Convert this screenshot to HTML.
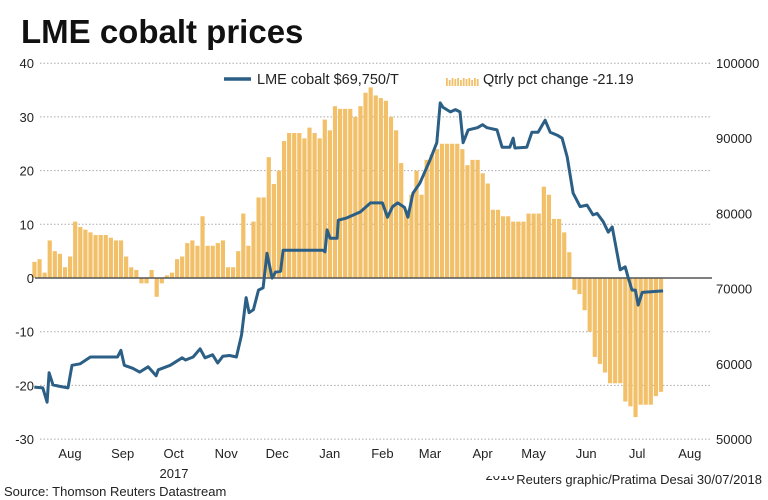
<!DOCTYPE html>
<html><head><meta charset="utf-8">
<style>
html,body{margin:0;padding:0;background:#fff;}
svg{display:block;font-family:"Liberation Sans",sans-serif;}
</style></head>
<body>
<svg id="chart" width="768" height="500" viewBox="0 0 768 500">
  <text x="21" y="43" font-size="33" font-weight="bold" fill="#111">LME cobalt prices</text>
  <g id="grid"></g>
  <g id="bars"></g>
  <g id="zero"></g>
  <g id="line"></g>
  <g id="axes"></g>
  <g>
    <line x1="224" y1="79" x2="251" y2="79" stroke="#2c5f85" stroke-width="3.5"/>
    <text x="257" y="84" font-size="14.5" fill="#222">LME cobalt $69,750/T</text>
    <g id="legswatch"></g>
    <text x="483" y="84" font-size="14.5" fill="#222">Qtrly pct change -21.19</text>
  </g>
  <text x="174" y="478" font-size="13" text-anchor="middle" fill="#222">2017</text>
  <text x="500" y="480" font-size="13" text-anchor="middle" fill="#222">2018</text>
  <rect x="480" y="470" width="288" height="6" fill="#fff"/>
  <text x="762" y="484" font-size="13" text-anchor="end" fill="#222">Reuters graphic/Pratima Desai 30/07/2018</text>
  <text x="4" y="496" font-size="13" fill="#222">Source: Thomson Reuters Datastream</text>
</svg>
<script>
const leftTicks = [40,30,20,10,0,-10,-20,-30];
const rightTicks = [100000,90000,80000,70000,60000,50000];
const monthLabels = ["Aug","Sep","Oct","Nov","Dec","Jan","Feb","Mar","Apr","May","Jun","Jul","Aug"];
const monthMidDays = [22,53,83,114,144,175,206,234,265,295,326,356,387];
const pctStartDay = 1;
const pctStepDays = 3;
const pctValues = [3,3.5,1,7,5,4.5,2,4,10.5,9.5,9,8.5,8,8,8,7.5,7,7,4,2,1.5,-1,-1,1.5,-3.5,-1,0.5,1,3.5,4,6.5,7,6,11.5,6,6,6.5,7,2,2,5,12,6,10.5,15,15,22.5,17.5,20,25.5,27,27,27,26,28,27,26,29.5,27.5,32,31.5,31.5,31.5,30,32,34.5,35.5,34,33.5,33,30,27.5,21.4,12.7,15.5,20,15.5,22,23,24,25,25,25,25,24,21,22,22,19.5,17.6,12.7,12.7,11.5,11.5,10.5,10.5,10.5,12,12,12,17,15.5,11,11,8.5,4.8,-2.2,-3,-6,-10,-14.7,-16,-17.6,-19.6,-19.6,-19.6,-23,-23.9,-25.9,-23.6,-23.6,-23.6,-22,-21.2];
const priceDays = [1,6,8.5,9.7,12,16,20.8,23.2,28,34,50,52,54,59,63,68,72.7,74,81,88,90,94.5,98.6,101.5,106,109,112,116,120,123,125.7,127.5,130,133,135.7,138,141,143,146,147.5,171,172.2,173.4,175.2,179.3,180,185,193,199,206,209,212,215,219,221,224,228,234,238,240,241.7,246,249,251.7,253.5,256.5,262,265,267.6,273.5,276.5,281,283,284,291,294,297.7,301.8,304.8,309,311.8,314.8,318.3,322.4,326.5,330,332.4,336,339,341.3,346,349,350.7,353,355,356.6,359,371.3];
const priceValues = [56900,56800,54900,58800,57200,57000,56800,59800,60000,60900,60900,61800,59800,59400,58900,59600,58400,59200,59800,60800,60500,60900,62000,60800,61200,60100,61000,61100,60900,63800,68800,66800,67200,69800,70100,74700,71400,72200,72300,75100,75100,74900,77800,76700,76700,79100,79400,80200,81400,81400,79500,80900,81400,80800,79500,82700,84000,87100,89400,94700,94100,93500,93800,93500,89400,91100,91400,91800,91400,91100,88800,88800,90000,88700,88800,90800,90800,92400,90800,90400,90000,87500,82700,80900,81100,79800,80000,78900,77500,78200,72500,72900,71500,69800,69800,67800,69500,69700];

const NS="http://www.w3.org/2000/svg";
function mk(tag, attrs, parent){const e=document.createElementNS(NS,tag);for(const k in attrs)e.setAttribute(k,attrs[k]);parent.appendChild(e);return e;}
const xDay = d => 70 + (d-22)*1.698;
const yL = v => 278 - v*5.37;
const yR = p => 439 - (p-50000)*0.00752;

const grid=document.getElementById('grid'), axes=document.getElementById('axes');
leftTicks.forEach(v=>{
  const l=mk('line',{x1:40,x2:712,y1:yL(v),y2:yL(v),stroke:'#aaa','stroke-width':1,'stroke-dasharray':'1.5,2'},grid);
  
  
  const t=mk('text',{x:34,y:yL(v)+5,'font-size':13,'text-anchor':'end',fill:'#222'},axes);
  t.textContent=v;
  
  
});
rightTicks.forEach(p=>{
  const t=mk('text',{x:716,y:yR(p)+5,'font-size':13,fill:'#222'},axes);
  t.textContent=p;
  
  
});
monthLabels.forEach((m,i)=>{
  const t=mk('text',{x:xDay(monthMidDays[i]),y:458,'font-size':13,'text-anchor':'middle',fill:'#222'},axes);
  t.textContent=m;
  
  
});

const bars=document.getElementById('bars');
pctValues.forEach((v,i)=>{
  const x=xDay(pctStartDay+i*pctStepDays);
  const y0=yL(0), y1=yL(v);
  const r=mk('rect',{x:x-2,y:Math.min(y0,y1),width:4.2,height:Math.abs(y1-y0),fill:'#f3c06a'},bars);
  
  
});
const z=mk('line',{x1:35,x2:712,y1:yL(0),y2:yL(0),stroke:'#555','stroke-width':1.5},document.getElementById('zero'));



const pts=priceDays.map((d,i)=>xDay(d).toFixed(1)+','+yR(priceValues[i]).toFixed(1)).join(' ');
const pl=mk('polyline',{points:pts,fill:'none',stroke:'#2c5f85','stroke-width':3,'stroke-linejoin':'round'},document.getElementById('line'));



const sw=document.getElementById('legswatch');
for(let k=0;k<12;k++){
  const h=[8,6,8,7,8,6,8,7,8,6,8,7][k];
  mk('rect',{x:446+k*2.8,y:86-h,width:1.8,height:h,fill:'#f3c06a'},sw);
}
</script>
</body></html>
